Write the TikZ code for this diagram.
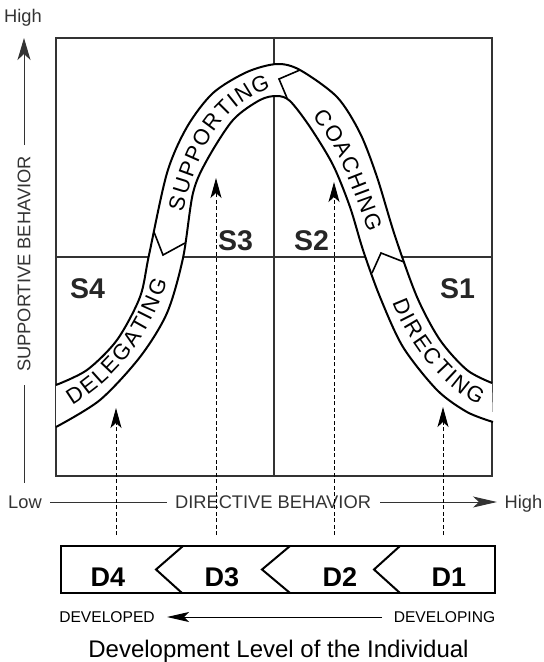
\documentclass[tikz,border=0pt]{standalone}
\usepackage{fontspec}
\setmainfont{Liberation Sans}
\usetikzlibrary{arrows.meta,decorations.text}
\newcommand\bandfont{\fontsize{22}{24}\selectfont}
\begin{document}
\begin{tikzpicture}[x=1pt,y=-1pt,
  gridline/.style={draw=black!80,line width=2.2pt},
  bandline/.style={draw=black,line width=2pt},
  divider/.style={draw=black,line width=1.6pt,line join=miter},
  axisline/.style={draw=black!80,line width=1pt},
  bigtip/.style={-{Stealth[length=22pt,width=13pt,inset=6pt]}},
  devtip/.style={-{Stealth[length=22pt,width=10pt,inset=5pt]}},
  dasharrow/.style={draw=black,line width=1pt,dash pattern=on 4pt off 2.5pt,-{Stealth[length=20pt,width=11pt,inset=5pt]}},
  axtext/.style={font=\fontsize{18.3}{20}\selectfont,text=black!80,inner sep=0pt,anchor=base},
  slabel/.style={font=\fontsize{28.5}{30}\selectfont\bfseries,text=black!85,inner sep=0pt,anchor=base},
  dlabel/.style={font=\fontsize{27}{30}\selectfont\bfseries,inner sep=0pt,anchor=base},
  devtext/.style={font=\fontsize{15.6}{18}\selectfont,inner sep=0pt,anchor=base},
  bandtext/.style={decorate,decoration={text along path,text align=fit to path,raise=-7.9pt,text={|\bandfont|#1}}},
  dbox/.style={draw=black,line width=2.4pt,minimum width=434pt,minimum height=47pt,inner sep=0pt},
  chev/.style={draw=black,line width=2pt,line join=miter},
]
\useasboundingbox (0,0) rectangle (544,662);

% main grid
\node[gridline,minimum width=436pt,minimum height=438pt,inner sep=0pt] (grid) at (274,257) {};
\draw[gridline] (grid.north) -- (grid.south);
\draw[gridline] (grid.west) -- (grid.east);

% band
\fill[white] plot[smooth] coordinates {(56,385) (87,370) (117,340) (140,297) (149,255) (167,173) (187,127) (213,93) (247,72) (277,64) (300,70) (337,97) (360,133) (377,177) (395,236) (417,297) (440,340) (467,370) (492,383)}
  -- plot[smooth] coordinates {(493,422) (467,412) (437,390) (403,347) (380,297) (363,250) (350,207) (333,165) (310,127) (290,101) (277,96) (260,100) (233,120) (207,160) (193,193) (183,258) (167,313) (140,357) (100,400) (56,427)} -- cycle;
\draw[bandline] plot[smooth] coordinates {(56,385) (87,370) (117,340) (140,297) (149,255) (167,173) (187,127) (213,93) (247,72) (277,64) (300,70) (337,97) (360,133) (377,177) (395,236) (417,297) (440,340) (467,370) (492,383)};
\draw[bandline] plot[smooth] coordinates {(56,427) (100,400) (140,357) (167,313) (183,258) (193,193) (207,160) (233,120) (260,100) (277,96) (290,101) (310,127) (333,165) (350,207) (363,250) (380,297) (403,347) (437,390) (467,412) (493,422)};

% dividers
\draw[divider] (154,232) -- (163,255) -- (185,243);
\draw[divider] (300,70) -- (279,79) -- (287,98);
\draw[divider] (372,273) -- (381,253) -- (404,262);

% band texts
\path[bandtext=DELEGATING] (68,398.5) .. controls (116.8,368.9) and (142.2,329.2) .. (160,279);
\path[bandtext=SUPPORTING] (175,210) .. controls (190.1,152.1) and (210.5,99.4) .. (268,81);
\path[bandtext=COACHING] (319,112) .. controls (348.2,145.3) and (360.7,189.7) .. (376,230);
\path[bandtext=DIRECTING] (400,299) .. controls (412.5,334.9) and (448.3,382.6) .. (483,398);

% quadrant labels
\node[slabel] (s4) at (87.5,298) {S4};
\node[slabel] (s3) at (235.5,250) {S3};
\node[slabel] (s2) at (311.5,250) {S2};
\node[slabel] (s1) at (457.5,298) {S1};

% y axis
\node[axtext] (yhigh) at (23,22.5) {High};
\node[font=\fontsize{18.3}{20}\selectfont,text=black!80,inner sep=0pt,rotate=90] (ylabel) at (24,264) {SUPPORTIVE BEHAVIOR};
\coordinate (ya1) at (24,145);
\coordinate (ya2) at (24,38);
\coordinate (ya3) at (24,385);
\coordinate (ya4) at (24,483);
\draw[axisline,bigtip] (ya1) -- (ya2);
\draw[axisline] (ya3) -- (ya4);

% x axis
\node[axtext] (xlow) at (25,508.5) {Low};
\node[axtext] (xlabel) at (273,508.5) {DIRECTIVE BEHAVIOR};
\node[axtext] (xhigh) at (523.5,508.5) {High};
\coordinate (xa1) at (50,502);
\coordinate (xa2) at (167,502);
\coordinate (xa3) at (380,502);
\coordinate (xa4) at (497,502);
\draw[axisline] (xa1) -- (xa2);
\draw[axisline,-{Stealth[length=24pt,width=11pt,inset=6pt]}] (xa3) -- (xa4);

% development box
\node[dbox] (dev) at (278,569.5) {};
\draw[chev] (183,546) -- (156,569.5) -- (182,593);
\draw[chev] (290,546) -- (262,569.5) -- (290,593);
\draw[chev] (400,546) -- (374,569.5) -- (400,593);
\node[dlabel] (d4) at (108,586) {D4};
\node[dlabel] (d3) at (222,586) {D3};
\node[dlabel] (d2) at (340,586) {D2};
\node[dlabel] (d1) at (449,586) {D1};

% dashed arrows
\coordinate (b4) at (116,535); \coordinate (t4) at (116,408);
\coordinate (b3) at (216,535); \coordinate (t3) at (216,178);
\coordinate (b2) at (334,535); \coordinate (t2) at (334,182);
\coordinate (b1) at (443,535); \coordinate (t1) at (443,407);
\draw[dasharrow] (b4) -- (t4);
\draw[dasharrow] (b3) -- (t3);
\draw[dasharrow] (b2) -- (t2);
\draw[dasharrow] (b1) -- (t1);

% development direction
\node[devtext] (developed) at (107,622.5) {DEVELOPED};
\node[devtext] (developing) at (444.5,622.5) {DEVELOPING};
\coordinate (dv1) at (382,617);
\coordinate (dv2) at (167,617);
\draw[axisline,draw=black,devtip] (dv1) -- (dv2);

\node[font=\fontsize{24}{28}\selectfont,inner sep=0pt,anchor=base] (title) at (278.5,657) {Development Level of the Individual};
\end{tikzpicture}
\end{document}
